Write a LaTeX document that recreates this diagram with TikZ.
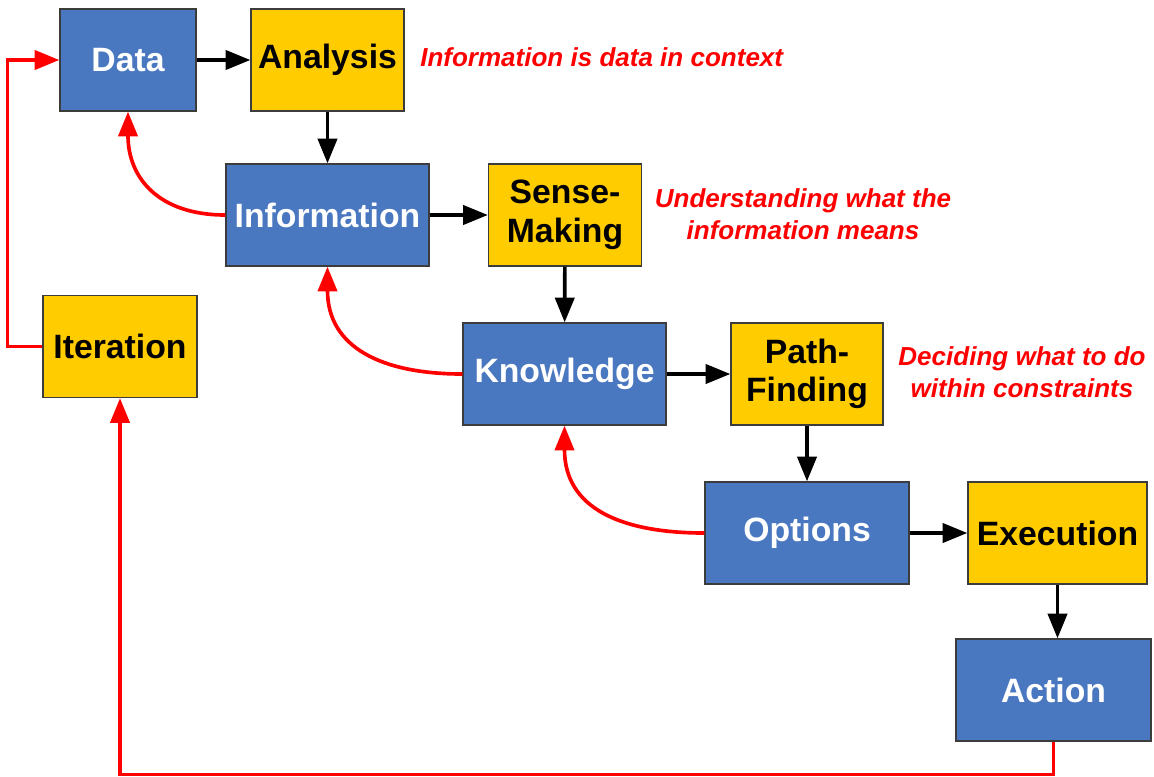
\documentclass[tikz,border=0pt]{standalone}
\usepackage{fontspec}
\setmainfont{Liberation Sans}
\usepackage{tikz}
\usetikzlibrary{arrows.meta}

\definecolor{boxblue}{HTML}{4A78C0}
\definecolor{boxyellow}{HTML}{FFCC00}
\definecolor{boxline}{HTML}{3C3C3C}

\begin{document}
\begin{tikzpicture}[x=0.025cm, y=-0.025cm]
        \tikzset{
            box/.style={draw=boxline, line width=0.9pt, inner sep=0pt, minimum height=2.55cm,
                align=center, font=\fontsize{24}{27.5}\selectfont\bfseries},
            bluebox/.style={box, fill=boxblue, text=white},
            yellowbox/.style={box, fill=boxyellow, text=black},
            flow/.style={line width=2.6pt, -{Triangle[length=0.62cm, width=0.48cm]}},
            back/.style={flow, red},
            note/.style={text=red, align=center, inner sep=0pt,
                font=\fontsize{18.5}{22.7}\selectfont\bfseries\itshape}
        }
        \useasboundingbox (0,0) rectangle (1154,776);

        % boxes
        \node[bluebox, minimum width=3.4cm]     (data)        at (128, 60)    {Data};
        \node[yellowbox, minimum width=3.825cm] (analysis)    at (327.5, 60)  {Analysis};
        \node[bluebox, minimum width=5.075cm]   (information) at (327.5, 215) {Information};
        \node[yellowbox, minimum width=3.825cm] (sensemaking) at (565, 215)   {Sense-\\Making};
        \node[bluebox, minimum width=5.075cm]   (knowledge)   at (564.5, 374) {Knowledge};
        \node[yellowbox, minimum width=3.8cm]   (pathfinding) at (807, 374)   {Path-\\Finding};
        \node[bluebox, minimum width=5.1cm]     (options)     at (807, 533)   {Options};
        \node[yellowbox, minimum width=4.475cm] (execution)   at (1057.5, 533) {Execution};
        \node[bluebox, minimum width=4.875cm]   (action)      at (1053.5, 690) {Action};
        \node[yellowbox, minimum width=3.85cm]  (iteration)   at (120, 346.5) {Iteration};

        % notes
        \node[note, anchor=west] (context) at (420, 57) {Information is data in context};
        \node[note] (meaning)    at (803, 214) {Understanding what the\\information means};
        \node[note] (constraint) at (1022, 372) {Deciding what to do\\within constraints};

        % forward flow
        \draw[flow] (data) -- (analysis);
        \draw[flow] (analysis) -- (information);
        \draw[flow] (information) -- (sensemaking);
        \draw[flow] (sensemaking) -- (knowledge);
        \draw[flow] (knowledge) -- (pathfinding);
        \draw[flow] (pathfinding) -- (options);
        \draw[flow] (options) -- (execution);
        \draw[flow] (execution.south) -- (execution.south |- action.north);

        % feedback
        \draw[back] (information.west) to[out=180, in=-90, looseness=1.2] (data.south);
        \draw[back] (knowledge.west) to[out=180, in=-90, looseness=1.2] (information.south);
        \draw[back] (options.west) to[out=180, in=-90, looseness=1.2] (knowledge.south);
        \draw[back] (action.south) -- ++(0, 33) -| (iteration.south);
        \draw[back] (iteration.west) -- ++(-35, 0) |- (data.west);
\end{tikzpicture}
\end{document}
